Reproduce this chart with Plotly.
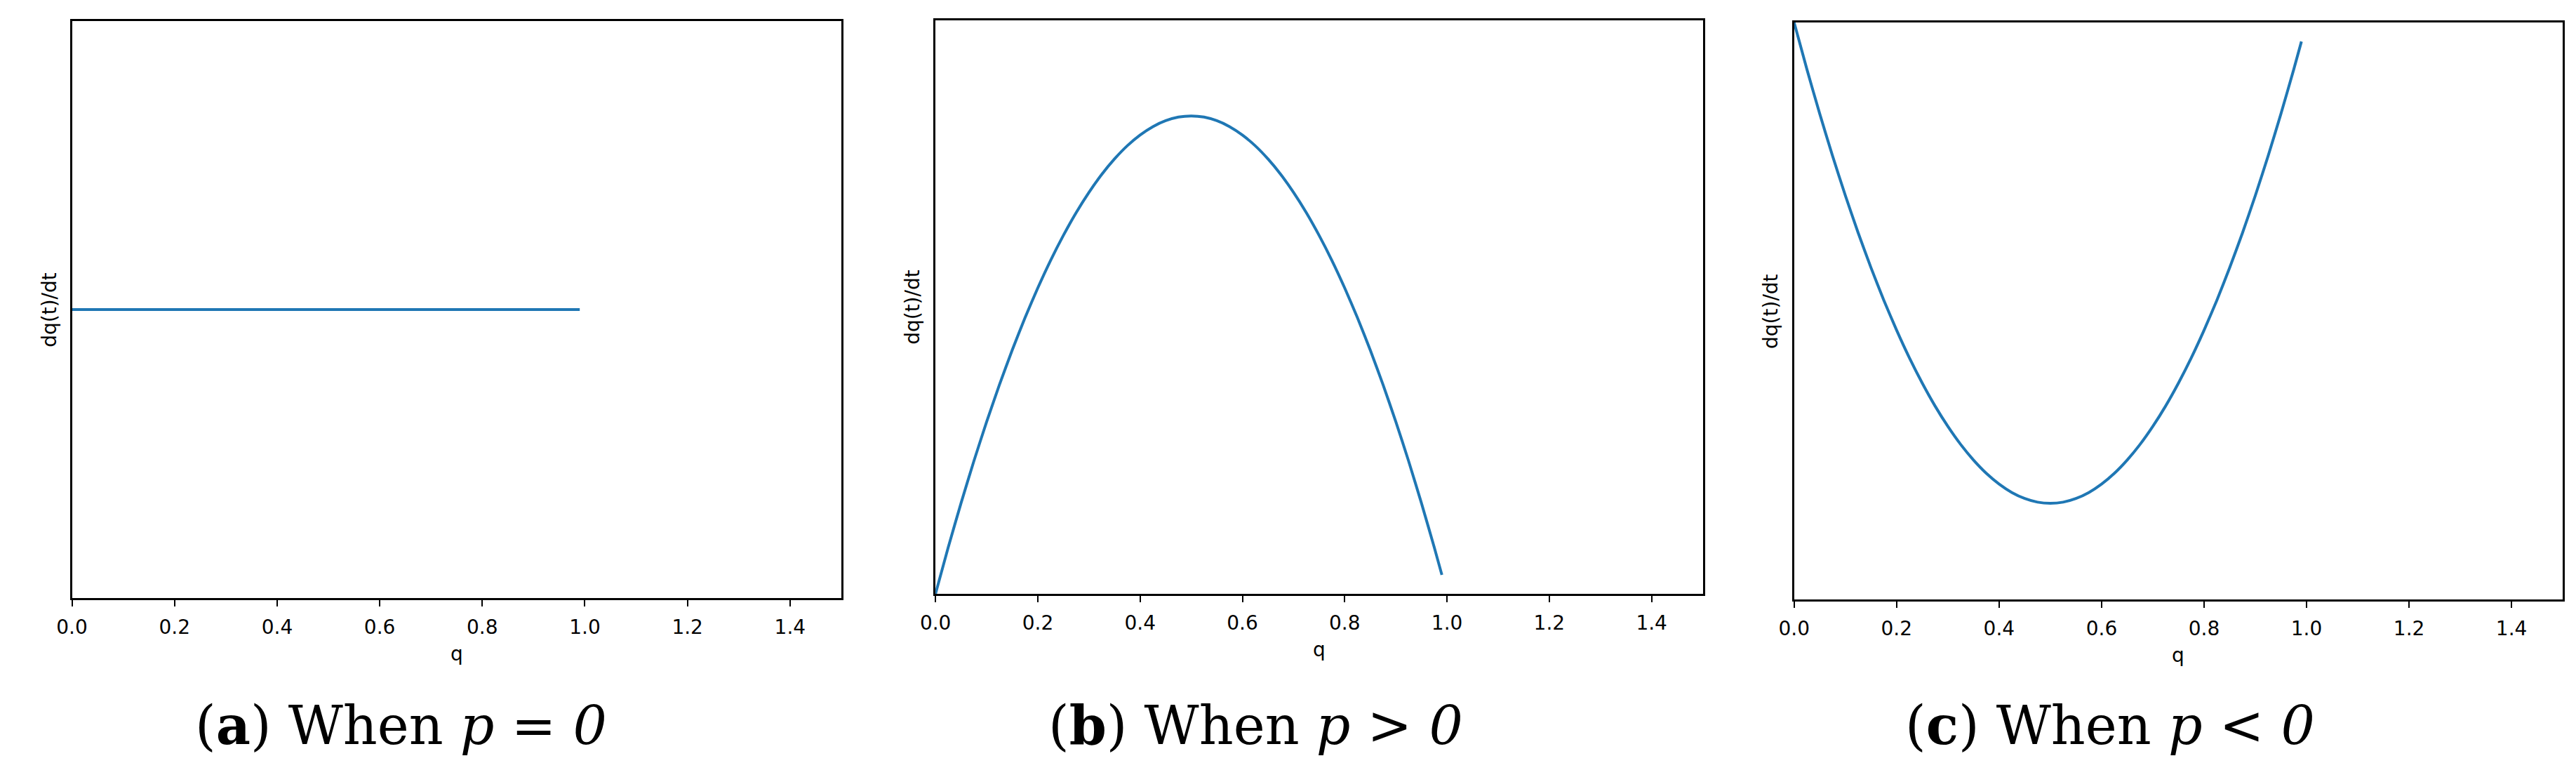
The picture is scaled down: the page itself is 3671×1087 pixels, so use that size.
import plotly.graph_objects as go

W, H = 3671, 1087

# ---- data ----
q_a = [0.0, 0.99]
y_a = [0.0, 0.0]

q_bc = [0.0, 0.025, 0.05, 0.075, 0.10, 0.125, 0.15, 0.175, 0.20, 0.225, 0.25,
        0.275, 0.30, 0.325, 0.35, 0.375, 0.40, 0.425, 0.45, 0.475, 0.50,
        0.525, 0.55, 0.575, 0.60, 0.625, 0.65, 0.675, 0.70, 0.725, 0.75,
        0.775, 0.80, 0.825, 0.85, 0.875, 0.90, 0.925, 0.95, 0.975, 0.99]
y_b = [0.0, 0.0244, 0.0475, 0.0694, 0.09, 0.1094, 0.1275, 0.1444, 0.16, 0.1744, 0.1875,
       0.1994, 0.21, 0.2194, 0.2275, 0.2344, 0.24, 0.2444, 0.2475, 0.2494, 0.25,
       0.2494, 0.2475, 0.2444, 0.24, 0.2344, 0.2275, 0.2194, 0.21, 0.1994, 0.1875,
       0.1744, 0.16, 0.1444, 0.1275, 0.1094, 0.09, 0.0694, 0.0475, 0.0244, 0.0099]
y_c = [0.0, -0.0244, -0.0475, -0.0694, -0.09, -0.1094, -0.1275, -0.1444, -0.16, -0.1744, -0.1875,
       -0.1994, -0.21, -0.2194, -0.2275, -0.2344, -0.24, -0.2444, -0.2475, -0.2494, -0.25,
       -0.2494, -0.2475, -0.2444, -0.24, -0.2344, -0.2275, -0.2194, -0.21, -0.1994, -0.1875,
       -0.1744, -0.16, -0.1444, -0.1275, -0.1094, -0.09, -0.0694, -0.0475, -0.0244, -0.0099]

x_tickvals = [0.0, 0.2, 0.4, 0.6, 0.8, 1.0, 1.2, 1.4]
x_ticktext = ["0.0", "0.2", "0.4", "0.6", "0.8", "1.0", "1.2", "1.4"]

captions = ["(<b>a</b>) When <i>p</i> = <i>0</i>",
            "(<b>b</b>) When <i>p</i> &gt; <i>0</i>",
            "(<b>c</b>) When <i>p</i> &lt; <i>0</i>"]
y_ranges = [[-0.3, 0.3], [0.0, 0.3], [-0.3, 0.0]]

# ---- layout geometry (pixels) ----
panels = [
    dict(l=73, r=1176, t=22, b=844, cap_x=545),
    dict(l=1311, r=2411, t=21, b=838, cap_x=1770),
    dict(l=2542, r=3644, t=24, b=846, cap_x=2995),
]

BLUE = "#1f77b4"
fig = go.Figure()
series = [(q_a, y_a), (q_bc, y_b), (q_bc, y_c)]
for i, (qx, qy) in enumerate(series):
    sfx = "" if i == 0 else str(i + 1)
    fig.add_trace(go.Scatter(x=qx, y=qy, mode="lines",
                             line=dict(color=BLUE, width=4, shape="spline", smoothing=0.5),
                             xaxis="x" + sfx, yaxis="y" + sfx, showlegend=False,
                             hoverinfo="skip"))

axis_common = dict(showline=True, linecolor="black", linewidth=2.5, mirror=True,
                   showgrid=False, zeroline=False)
annotations = []
for i, p in enumerate(panels):
    sfx = "" if i == 0 else str(i + 1)
    xd = [p["l"] / W, p["r"] / W]
    yd = [1 - p["b"] / H, 1 - p["t"] / H]
    fig.update_layout(**{
        "xaxis" + sfx: dict(domain=xd, range=[0, 1.5], anchor="y" + sfx,
                            tickvals=x_tickvals, ticktext=x_ticktext,
                            ticks="outside", ticklen=9, tickwidth=1.5, tickcolor="black",
                            ticklabelstandoff=6,
                            tickfont=dict(family="DejaVu Sans", size=28, color="black"),
                            **axis_common),
        "yaxis" + sfx: dict(domain=yd, range=y_ranges[i], anchor="x" + sfx,
                            showticklabels=False, ticks="", **axis_common),
    })
    cx = (p["l"] + p["r"]) / 2
    cy = (p["t"] + p["b"]) / 2
    annotations.append(dict(text="q", x=cx / W, y=1 - (p["b"] + 79) / H,
                            xref="paper", yref="paper", showarrow=False,
                            xanchor="center", yanchor="middle",
                            font=dict(family="DejaVu Sans", size=28, color="black")))
    annotations.append(dict(text="dq(t)/dt", x=(p["l"] - 33) / W, y=1 - cy / H,
                            xref="paper", yref="paper", showarrow=False, textangle=-90,
                            xanchor="center", yanchor="middle",
                            font=dict(family="DejaVu Sans", size=28, color="black")))
    annotations.append(dict(text=captions[i], x=p["cap_x"] / W, y=1 - 1025 / H,
                            xref="paper", yref="paper", showarrow=False,
                            xanchor="center", yanchor="middle",
                            font=dict(family="DejaVu Serif", size=76, color="black")))

fig.update_layout(width=W, height=H, margin=dict(l=0, r=0, t=0, b=0),
                  paper_bgcolor="white", plot_bgcolor="white",
                  annotations=annotations, showlegend=False)

fig.write_html("out.html")
